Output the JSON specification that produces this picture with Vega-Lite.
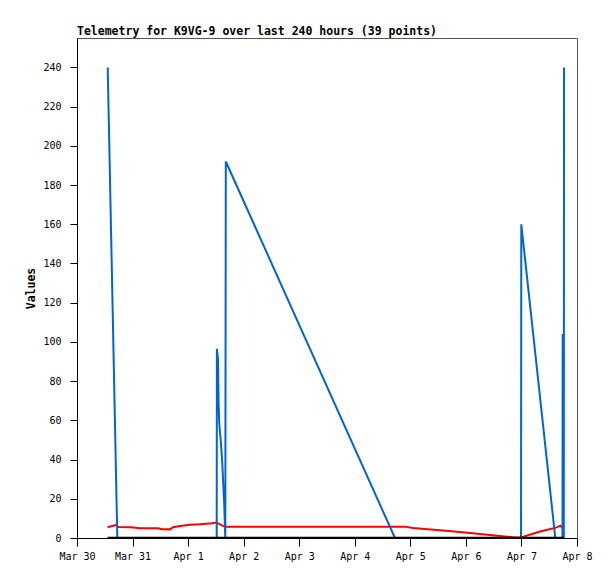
{
  "$schema": "https://vega.github.io/schema/vega-lite/v6.json",
  "width": 500,
  "height": 500,
  "autosize": {"type": "none"},
  "padding": {"left": 77, "top": 38, "right": 38, "bottom": 41},
  "background": "white",
  "title": {
    "text": "Telemetry for K9VG-9 over last 240 hours (39 points)",
    "anchor": "start",
    "frame": "group",
    "baseline": "alphabetic",
    "offset": -8,
    "font": "DejaVu Sans Mono",
    "fontSize": 11.5,
    "fontWeight": "bold",
    "color": "black"
  },
  "config": {
    "view": {"stroke": "#555555", "strokeWidth": 1},
    "axis": {
      "labelFont": "DejaVu Sans Mono",
      "labelFontSize": 10,
      "labelColor": "black",
      "domainColor": "black",
      "tickColor": "black",
      "grid": false,
      "titleFont": "DejaVu Sans Mono",
      "titleFontWeight": "bold",
      "titleFontSize": 11.5,
      "titleColor": "black"
    }
  },
  "data": {
    "values": [
      {"t": "2024-03-30T13:13:00Z", "series": "red", "v": 5.5},
      {"t": "2024-03-30T15:07:00Z", "series": "red", "v": 6.1},
      {"t": "2024-03-30T16:51:00Z", "series": "red", "v": 6.6},
      {"t": "2024-03-30T17:56:00Z", "series": "red", "v": 5.6},
      {"t": "2024-03-30T23:20:00Z", "series": "red", "v": 5.5},
      {"t": "2024-03-31T03:13:00Z", "series": "red", "v": 5.0},
      {"t": "2024-03-31T10:59:00Z", "series": "red", "v": 5.0},
      {"t": "2024-03-31T12:43:00Z", "series": "red", "v": 4.5},
      {"t": "2024-03-31T16:11:00Z", "series": "red", "v": 4.4},
      {"t": "2024-03-31T17:28:00Z", "series": "red", "v": 5.5},
      {"t": "2024-03-31T20:30:00Z", "series": "red", "v": 6.1},
      {"t": "2024-04-01T00:49:00Z", "series": "red", "v": 6.8},
      {"t": "2024-04-01T05:08:00Z", "series": "red", "v": 7.0},
      {"t": "2024-04-01T10:19:00Z", "series": "red", "v": 7.5},
      {"t": "2024-04-01T12:16:00Z", "series": "red", "v": 7.9},
      {"t": "2024-04-01T13:47:00Z", "series": "red", "v": 7.0},
      {"t": "2024-04-01T15:04:00Z", "series": "red", "v": 6.2},
      {"t": "2024-04-01T16:22:00Z", "series": "red", "v": 5.8},
      {"t": "2024-04-03T00:20:00Z", "series": "red", "v": 5.8},
      {"t": "2024-04-04T21:42:00Z", "series": "red", "v": 5.8},
      {"t": "2024-04-05T01:09:00Z", "series": "red", "v": 5.1},
      {"t": "2024-04-05T12:49:00Z", "series": "red", "v": 4.0},
      {"t": "2024-04-05T21:30:00Z", "series": "red", "v": 3.1},
      {"t": "2024-04-06T10:25:00Z", "series": "red", "v": 1.5},
      {"t": "2024-04-06T21:13:00Z", "series": "red", "v": 0.3},
      {"t": "2024-04-06T23:49:00Z", "series": "red", "v": 0.3},
      {"t": "2024-04-07T08:01:00Z", "series": "red", "v": 3.3},
      {"t": "2024-04-07T14:55:00Z", "series": "red", "v": 5.3},
      {"t": "2024-04-07T16:52:00Z", "series": "red", "v": 6.3},
      {"t": "2024-04-07T17:44:00Z", "series": "red", "v": 5.0},
      {"t": "2024-04-07T18:23:00Z", "series": "red", "v": 6.4},
      {"t": "2024-03-30T13:16:00Z", "series": "blue", "v": 240},
      {"t": "2024-03-30T17:25:00Z", "series": "blue", "v": 0},
      {"t": "2024-04-01T12:21:00Z", "series": "blue", "v": 0},
      {"t": "2024-04-01T12:26:00Z", "series": "blue", "v": 96.5},
      {"t": "2024-04-01T12:55:00Z", "series": "blue", "v": 91},
      {"t": "2024-04-01T13:10:00Z", "series": "blue", "v": 69},
      {"t": "2024-04-01T13:28:00Z", "series": "blue", "v": 58},
      {"t": "2024-04-01T14:13:00Z", "series": "blue", "v": 48},
      {"t": "2024-04-01T14:46:00Z", "series": "blue", "v": 38},
      {"t": "2024-04-01T15:12:00Z", "series": "blue", "v": 27},
      {"t": "2024-04-01T15:38:00Z", "series": "blue", "v": 16},
      {"t": "2024-04-01T16:04:00Z", "series": "blue", "v": 0},
      {"t": "2024-04-01T16:17:00Z", "series": "blue", "v": 192},
      {"t": "2024-04-04T17:22:00Z", "series": "blue", "v": 0},
      {"t": "2024-04-06T23:49:00Z", "series": "blue", "v": 0},
      {"t": "2024-04-06T23:56:00Z", "series": "blue", "v": 160},
      {"t": "2024-04-07T14:37:00Z", "series": "blue", "v": 0},
      {"t": "2024-04-07T17:44:00Z", "series": "blue", "v": 0},
      {"t": "2024-04-07T17:49:00Z", "series": "blue", "v": 104},
      {"t": "2024-04-07T18:17:00Z", "series": "blue", "v": 0},
      {"t": "2024-04-07T18:24:00Z", "series": "blue", "v": 240},
      {"t": "2024-03-30T13:13:00Z", "series": "black", "v": 0},
      {"t": "2024-04-07T18:24:00Z", "series": "black", "v": 0}
    ]
  },
  "encoding": {
    "x": {
      "field": "t",
      "type": "temporal",
      "scale": {
        "type": "utc",
        "domain": [
          {"year": 2024, "month": "mar", "date": 30, "utc": true},
          {"year": 2024, "month": "apr", "date": 8, "utc": true}
        ]
      },
      "axis": {
        "title": null,
        "format": "%b %-d",
        "tickCount": {"interval": "day", "step": 1},
        "tickSize": 8,
        "labelPadding": 5,
        "labelFlush": false,
        "labelOverlap": false
      }
    },
    "y": {
      "field": "v",
      "type": "quantitative",
      "scale": {"domain": [0, 255], "nice": false, "zero": true},
      "axis": {
        "title": "Values",
        "values": [0, 20, 40, 60, 80, 100, 120, 140, 160, 180, 200, 220, 240],
        "tickSize": 7,
        "labelPadding": 9,
        "titlePadding": 6
      }
    }
  },
  "layer": [
    {
      "transform": [{"filter": "datum.series === 'red'"}],
      "mark": {"type": "line", "color": "#ff0000", "strokeWidth": 2, "clip": true}
    },
    {
      "transform": [{"filter": "datum.series === 'blue'"}],
      "mark": {"type": "line", "color": "#0066cc", "strokeWidth": 2, "clip": true}
    },
    {
      "transform": [{"filter": "datum.series === 'black'"}],
      "mark": {"type": "line", "color": "#000000", "strokeWidth": 2.5, "clip": true}
    }
  ]
}
